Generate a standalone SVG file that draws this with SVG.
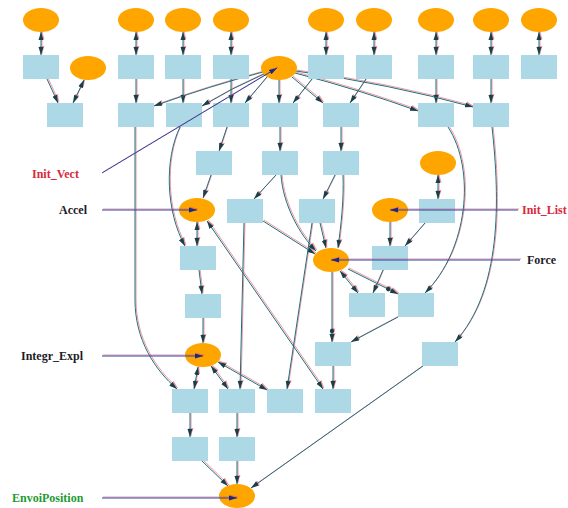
<svg xmlns="http://www.w3.org/2000/svg" width="568" height="508" viewBox="0 0 568 508">
<style>
  .el { fill: #FFA500; }
  .rc { fill: #ADD8E6; }
  .edges path { fill: none; stroke: #1f6f7c; stroke-width: 1; }
  .edges { filter: drop-shadow(1px -0.8px 0 rgba(232,80,100,0.6)); }
  .edges path.lab { stroke: #2a46a8; }
  .e { marker-end: url(#ah); }
  .b { marker-start: url(#ah); marker-end: url(#ah); }
  .d { marker-end: url(#ad); }
  .lb { marker-end: url(#al); }
  text { font-family: "Liberation Serif", "Times New Roman", serif; font-weight: bold; font-size: 12px; }
  .red { fill: #d8283c; }
  .blk { fill: #1c1c28; }
  .grn { fill: #1f9a33; }
</style>
<defs>
  <marker id="ah" markerUnits="userSpaceOnUse" markerWidth="9" markerHeight="7" refX="8" refY="3" orient="auto-start-reverse">
    <path d="M0,0.5 L8,3 L0,5.5 z" fill="#17414a"/>
  </marker>
  <marker id="ad" markerUnits="userSpaceOnUse" markerWidth="16" markerHeight="7" refX="14" refY="3" orient="auto">
    <circle cx="3" cy="3" r="2.2" fill="#17414a"/>
    <path d="M6,0.5 L14,3 L6,5.5 z" fill="#17414a"/>
  </marker>
  <marker id="al" markerUnits="userSpaceOnUse" markerWidth="9" markerHeight="7" refX="8" refY="3" orient="auto">
    <path d="M0,0.5 L8,3 L0,5.5 z" fill="#1a2a80"/>
  </marker>
</defs>
<rect width="568" height="508" fill="#ffffff"/>

<g id="connectors" class="edges">
  <path class="b" d="M41,32 L41,55"/>
  <path class="b" d="M136,32 L136,55"/>
  <path class="b" d="M183,32 L183,55"/>
  <path class="b" d="M231,32 L231,55"/>
  <path class="b" d="M326,32 L326,55"/>
  <path class="b" d="M374,32 L374,55"/>
  <path class="b" d="M436,32 L436,55"/>
  <path class="b" d="M491,32 L491,55"/>
  <path class="b" d="M539,32 L539,55"/>
  <path class="e" d="M47,79 L58,103"/>
  <path class="b" d="M84,80 L73,103"/>
  <path class="e" d="M136,79 L136,103"/>
  <path class="e" d="M183,79 L183,103"/>
  <path class="e" d="M231,79 L231,103"/>
  <path class="e" d="M312,79 L293,103"/>
  <path class="e" d="M366,79 L350,103"/>
  <path class="e" d="M436,79 L436,103"/>
  <path class="e" d="M491,79 L491,103"/>
  <path class="e" d="M263,72 Q210,86 154,106"/>
  <path class="e" d="M264,74 Q232,88 202,106"/>
  <path class="e" d="M267,77 L245,103"/>
  <path class="e" d="M279,80 L279,103"/>
  <path class="e" d="M292,77 L323,103"/>
  <path class="e" d="M295,73 Q360,90 418,111"/>
  <path class="e" d="M296,71 Q390,84 473,107"/>
  <path class="e" d="M180,127 C164,160 166,212 185,246"/>
  <path class="e" d="M227,127 L219,151"/>
  <path class="e" d="M280,127 L280,151"/>
  <path class="e" d="M341,127 L341,151"/>
  <path class="e" d="M135,127 L135,300 C135,340 155,370 177,389"/>
  <path class="e" d="M448,127 C476,170 468,250 425,293"/>
  <path class="e" d="M492,127 C500,200 502,290 455,342"/>
  <path class="e" d="M211,175 L203,198"/>
  <path class="e" d="M276,175 L254,199"/>
  <path class="e" d="M281,175 C283,205 300,235 316,251"/>
  <path class="e" d="M335,175 L323,199"/>
  <path class="e" d="M343,175 C344,200 341,225 338,248"/>
  <path class="b" d="M438,175 L438,199"/>
  <path class="b" d="M197,222 L197,246"/>
  <path class="e" d="M263,221 L315,254"/>
  <path class="e" d="M244,223 L240,389"/>
  <path class="e" d="M320,223 L326,248"/>
  <path class="e" d="M312,223 L287,389"/>
  <path class="e" d="M390,222 L390,246"/>
  <path class="e" d="M425,223 L405,246"/>
  <path class="b" d="M207,221 L323,389"/>
  <path class="e" d="M199,270 L202,294"/>
  <path class="b" d="M340,271 L358,293"/>
  <path class="d" d="M348,269 L398,294"/>
  <path class="d" d="M332,272 L332,342"/>
  <path class="e" d="M383,270 L373,293"/>
  <path class="e" d="M203,318 L203,343"/>
  <path class="e" d="M398,317 L351,342"/>
  <path class="b" d="M198,367 L194,389"/>
  <path class="b" d="M211,366 L228,389"/>
  <path class="b" d="M218,362 L267,390"/>
  <path class="e" d="M333,366 L333,389"/>
  <path class="e" d="M423,366 L251,488"/>
  <path class="e" d="M190,413 L190,437"/>
  <path class="e" d="M237,413 L237,437"/>
  <path class="e" d="M202,461 L228,486"/>
  <path class="e" d="M237,461 L237,484"/>
</g>

<g id="E1"><ellipse class="el" cx="41" cy="20" rx="18" ry="12"/></g>
<g id="E2"><ellipse class="el" cx="136" cy="20" rx="18" ry="12"/></g>
<g id="E3"><ellipse class="el" cx="183" cy="20" rx="18" ry="12"/></g>
<g id="E4"><ellipse class="el" cx="231" cy="20" rx="18" ry="12"/></g>
<g id="E5"><ellipse class="el" cx="326" cy="20" rx="18" ry="12"/></g>
<g id="E6"><ellipse class="el" cx="374" cy="20" rx="18" ry="12"/></g>
<g id="E7"><ellipse class="el" cx="436" cy="20" rx="18" ry="12"/></g>
<g id="E8"><ellipse class="el" cx="491" cy="20" rx="18" ry="12"/></g>
<g id="E9"><ellipse class="el" cx="539" cy="20" rx="18" ry="12"/></g>
<g id="E10"><ellipse class="el" cx="88" cy="68" rx="18" ry="12"/></g>
<g id="Hub"><ellipse class="el" cx="279" cy="68" rx="18" ry="12"/></g>
<g id="E12"><ellipse class="el" cx="438" cy="163" rx="18" ry="12"/></g>
<g id="Accel"><ellipse class="el" cx="197" cy="210" rx="18" ry="12"/></g>
<g id="InitList"><ellipse class="el" cx="390" cy="210" rx="18" ry="12"/></g>
<g id="Force"><ellipse class="el" cx="331" cy="260" rx="18" ry="12"/></g>
<g id="IntegrExpl"><ellipse class="el" cx="203" cy="355" rx="18" ry="12"/></g>
<g id="EnvoiPos"><ellipse class="el" cx="237" cy="496" rx="18" ry="12"/></g>

<g id="R1"><rect class="rc" x="23" y="55" width="36" height="24"/></g>
<g id="R2"><rect class="rc" x="118" y="55" width="36" height="24"/></g>
<g id="R3"><rect class="rc" x="165" y="55" width="36" height="24"/></g>
<g id="R4"><rect class="rc" x="213" y="55" width="36" height="24"/></g>
<g id="R5"><rect class="rc" x="308" y="55" width="36" height="24"/></g>
<g id="R6"><rect class="rc" x="356" y="55" width="36" height="24"/></g>
<g id="R7"><rect class="rc" x="418" y="55" width="36" height="24"/></g>
<g id="R8"><rect class="rc" x="473" y="55" width="36" height="24"/></g>
<g id="R9"><rect class="rc" x="521" y="55" width="36" height="24"/></g>
<g id="R10"><rect class="rc" x="47" y="103" width="36" height="24"/></g>
<g id="R11"><rect class="rc" x="118" y="103" width="36" height="24"/></g>
<g id="R12"><rect class="rc" x="166" y="103" width="36" height="24"/></g>
<g id="R13"><rect class="rc" x="213" y="103" width="36" height="24"/></g>
<g id="R14"><rect class="rc" x="262" y="103" width="36" height="24"/></g>
<g id="R15"><rect class="rc" x="323" y="103" width="36" height="24"/></g>
<g id="R16"><rect class="rc" x="418" y="103" width="36" height="24"/></g>
<g id="R17"><rect class="rc" x="473" y="103" width="36" height="24"/></g>
<g id="R18"><rect class="rc" x="196" y="151" width="36" height="24"/></g>
<g id="R19"><rect class="rc" x="262" y="151" width="36" height="24"/></g>
<g id="R20"><rect class="rc" x="323" y="151" width="36" height="24"/></g>
<g id="R21"><rect class="rc" x="227" y="199" width="36" height="24"/></g>
<g id="R22"><rect class="rc" x="299" y="199" width="36" height="24"/></g>
<g id="R23"><rect class="rc" x="419" y="199" width="36" height="24"/></g>
<g id="R24"><rect class="rc" x="180" y="246" width="36" height="24"/></g>
<g id="R25"><rect class="rc" x="372" y="246" width="36" height="24"/></g>
<g id="R26"><rect class="rc" x="185" y="294" width="36" height="24"/></g>
<g id="R27"><rect class="rc" x="349" y="293" width="36" height="24"/></g>
<g id="R28"><rect class="rc" x="398" y="293" width="36" height="24"/></g>
<g id="R29"><rect class="rc" x="315" y="342" width="36" height="24"/></g>
<g id="R30"><rect class="rc" x="422" y="342" width="36" height="24"/></g>
<g id="R31"><rect class="rc" x="172" y="389" width="36" height="24"/></g>
<g id="R32"><rect class="rc" x="219" y="389" width="36" height="24"/></g>
<g id="R33"><rect class="rc" x="267" y="389" width="36" height="24"/></g>
<g id="R34"><rect class="rc" x="315" y="389" width="36" height="24"/></g>
<g id="R35"><rect class="rc" x="172" y="437" width="36" height="24"/></g>
<g id="R36"><rect class="rc" x="219" y="437" width="36" height="24"/></g>

<g id="label-connectors" class="edges">
  <path class="lab lb" d="M102,173 L277,68"/>
  <path class="lab lb" d="M102,210 L197,210"/>
  <path class="lab lb" d="M518,210 L390,210"/>
  <path class="lab lb" d="M520,260 L331,260"/>
  <path class="lab lb" d="M102,356 L203,356"/>
  <path class="lab lb" d="M102,498 L237,498"/>
</g>

<g id="labels">
  <text class="red" x="32" y="178">Init_Vect</text>
  <text class="blk" x="59" y="214">Accel</text>
  <text class="red" x="522" y="214">Init_List</text>
  <text class="blk" x="527" y="264">Force</text>
  <text class="blk" x="21" y="360">Integr_Expl</text>
  <text class="grn" x="12" y="502">EnvoiPosition</text>
</g>
</svg>
